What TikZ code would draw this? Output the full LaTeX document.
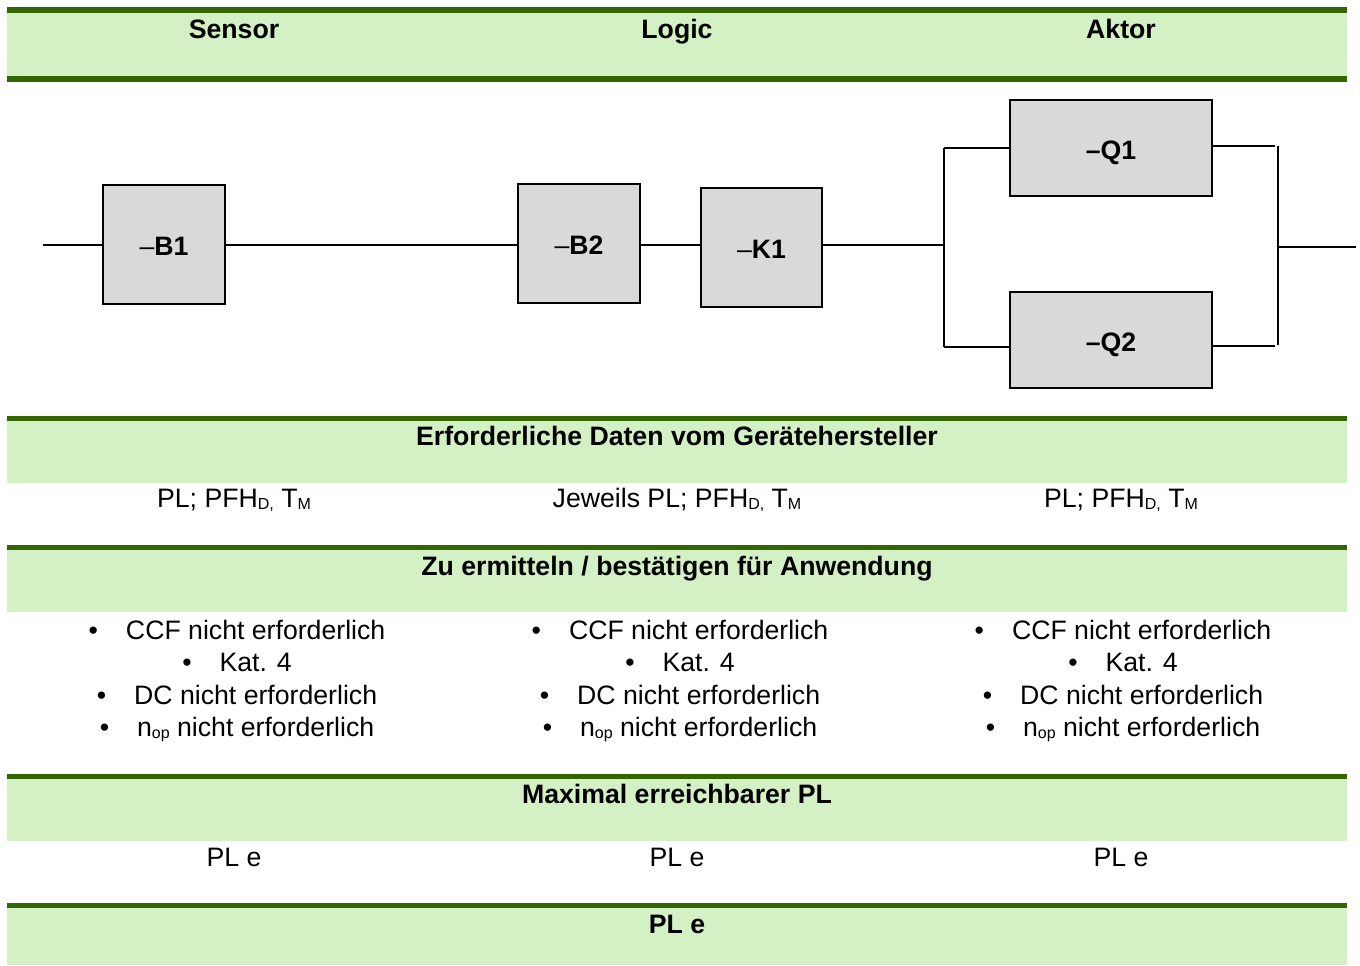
\documentclass[tikz,border=0pt]{standalone}
\usepackage{fontspec}
\setmainfont{Liberation Sans}
\definecolor{bandline}{HTML}{336600}
\definecolor{bandfill}{HTML}{D4F0C5}
\definecolor{boxfill}{HTML}{D9D9D9}
% lowered small index, as in PFH_D or n_op
\newcommand\lowidx[1]{\raisebox{-1.6pt}{\fontsize{12pt}{13pt}\selectfont #1}}
% bullet item as set in the list rows
\newcommand\bitem[1]{\textbullet\hspace{21pt}#1}
% device tag inside a block, set a little below the block centre
\newcommand\tagtext[1]{\raisebox{-1.5pt}[\height][0pt]{#1}}
\begin{document}
\begin{tikzpicture}[x=0.75pt,y=-0.75pt,
  body/.style={font=\fontsize{20pt}{24pt}\selectfont, inner sep=0pt, anchor=base},
  head/.style={body, font=\fontsize{20pt}{24pt}\selectfont\bfseries},
  block/.style={draw, line width=2pt, fill=boxfill, inner sep=0pt,
    font=\fontsize{20pt}{23pt}\selectfont},
  wire/.style={line width=1.5pt},
]
\useasboundingbox (0,0) rectangle (1360,965);

% green header bands: top rule, light body
\newcommand\band[3]{%
  \fill[bandfill] (7,#2) rectangle (1347,#3);
  \fill[bandline] (7,#1) rectangle (1347,#2);}
\band{7}{13}{76}
\fill[bandline] (7,76) rectangle (1347,82);
\band{416}{421}{483}
\band{545}{550}{612}
\band{774}{779}{841}
\band{903}{908}{965}

% column headings
\node[head] (hS) at (234,38) {Sensor};
\node[head] (hL) at (677,38) {Logic};
\node[head] (hA) at (1121,38) {Aktor};

% block diagram
\node[block, minimum width=91.5pt, minimum height=89.25pt] (B1) at (164,244.5) {\tagtext{–\textbf{B1}}};
\node[block, minimum width=91.5pt, minimum height=89.25pt] (B2) at (579,243.5) {\tagtext{–\textbf{B2}}};
\node[block, minimum width=90.75pt, minimum height=89.25pt] (K1) at (761.5,247.5) {\tagtext{–\textbf{K1}}};
\node[block, minimum width=151.5pt, minimum height=72pt] (Q1) at (1111,148) {\tagtext{\textbf{–Q1}}};
\node[block, minimum width=151.5pt, minimum height=72pt] (Q2) at (1111,340) {\tagtext{\textbf{–Q2}}};

\coordinate (rail) at (0,245);
\coordinate (in) at (43,245);
\coordinate (split) at (944,245);
\coordinate (splitT) at (944,148);
\coordinate (splitB) at (944,347);
\coordinate (joinT) at (1275,146);
\coordinate (joinB) at (1275,346);
\coordinate (barT) at (1278,146);
\coordinate (barB) at (1278,345);
\coordinate (barM) at (1278,247);
\coordinate (out) at (1356,247);

\draw[wire] (in) -- (B1.west |- rail);
\draw[wire] (B1.east |- rail) -- (B2.west |- rail);
\draw[wire] (B2.east |- rail) -- (K1.west |- rail);
\draw[wire] (K1.east |- rail) -- (split);
\draw[wire] (splitT) -- (splitB);
\draw[wire] (splitT) -- (Q1.west |- splitT);
\draw[wire] (splitB) -- (Q2.west |- splitB);
\draw[wire] (Q1.east |- joinT) -- (joinT);
\draw[wire] (Q2.east |- joinB) -- (joinB);
\draw[wire] (barT) -- (barB);
\draw[wire] (barM) -- (out);

% manufacturer data
\node[head] (t1) at (677,445) {Erforderliche Daten vom Gerätehersteller};
\node[body] (d1) at (234,507) {PL; PFH\lowidx{D,} T\lowidx{M}};
\node[body] (d2) at (677,507) {Jeweils PL; PFH\lowidx{D,} T\lowidx{M}};
\node[body] (d3) at (1121,507) {PL; PFH\lowidx{D,} T\lowidx{M}};

% application checks
\node[head] (t2) at (677,575) {Zu ermitteln / bestätigen für Anwendung};
\foreach \cx [count=\i] in {237,680,1123}{
  \node[body] (c\i) at (\cx,639) {\bitem{CCF nicht erforderlich}};
  \node[body] (k\i) at (\cx,671) {\bitem{Kat. 4}};
  \node[body] (dc\i) at (\cx,704) {\bitem{DC nicht erforderlich}};
  \node[body] (n\i) at (\cx,736) {\bitem{n\lowidx{op} nicht erforderlich}};
}

% achievable PL
\node[head] (t3) at (677,803) {Maximal erreichbarer PL};
\node[body] (p1) at (234,866) {PL e};
\node[body] (p2) at (677,866) {PL e};
\node[body] (p3) at (1121,866) {PL e};

% overall result
\node[head] (t4) at (677,933) {PL e};
\end{tikzpicture}
\end{document}
